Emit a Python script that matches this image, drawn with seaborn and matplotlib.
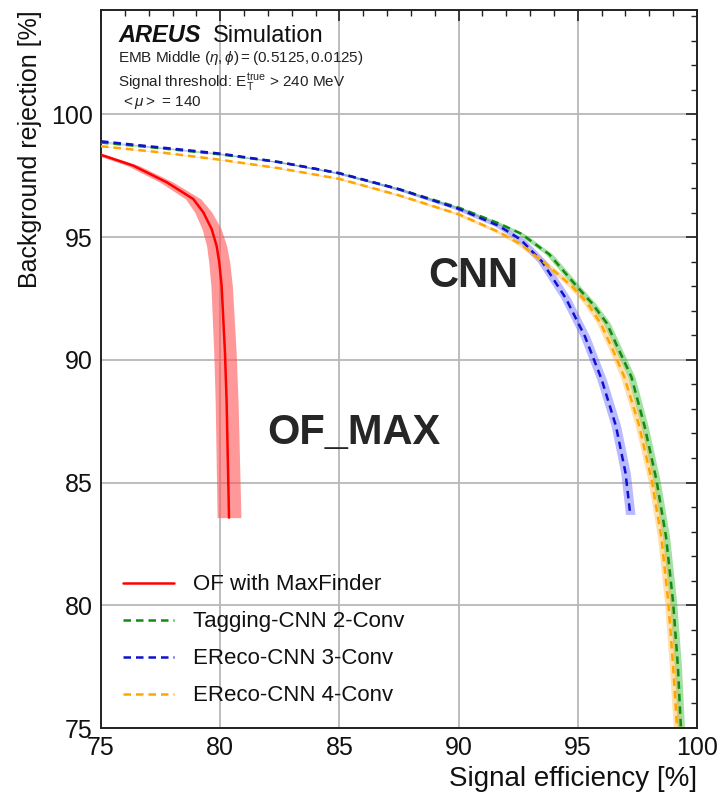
import numpy as np
import pandas as pd
import matplotlib
matplotlib.use("Agg")
import matplotlib.pyplot as plt
import seaborn as sns
from matplotlib.ticker import MultipleLocator

# ---------------- data ----------------
of_x = [75.0, 76.35, 77.76, 78.87, 79.29, 79.64, 79.85, 79.96, 80.06, 80.13, 80.2, 80.27, 80.37]
of_y = [98.35, 97.91, 97.23, 96.55, 96.01, 95.33, 94.64, 93.97, 93.01, 91.65, 90.3, 88.27, 83.57]
of_err = [0.22, 0.25, 0.28, 0.32, 0.36, 0.4, 0.42, 0.44, 0.45, 0.46, 0.47, 0.48, 0.5]

tag_x = [75.0, 77.5, 80.0, 82.5, 85.0, 87.5, 90.0, 91.7, 92.6, 93.8, 94.95, 95.6, 96.21, 96.7, 97.25, 97.8, 98.3, 98.7, 99.0, 99.2, 99.35]
tag_y = [98.85, 98.62, 98.37, 98.05, 97.6, 96.95, 96.2, 95.55, 95.15, 94.3, 93.0, 92.3, 91.5, 90.45, 89.3, 87.3, 85.1, 82.8, 80.1, 77.5, 74.5]
tag_err = 0.15

e3_x = [75.0, 77.5, 80.0, 82.5, 85.0, 87.5, 90.0, 91.7, 92.6, 93.5, 94.5, 95.3, 96.0, 96.6, 97.0, 97.2]
e3_y = [98.9, 98.65, 98.4, 98.05, 97.6, 96.95, 96.15, 95.45, 94.9, 94.0, 92.5, 90.95, 89.2, 87.3, 85.4, 83.7]
e3_err = 0.2

e4_x = [75.0, 77.5, 80.0, 82.5, 85.0, 87.5, 90.0, 91.7, 92.6, 93.8, 94.75, 95.4, 95.95, 96.45, 96.95, 97.55, 98.1, 98.5, 98.8, 99.0, 99.2]
e4_y = [98.7, 98.45, 98.15, 97.8, 97.37, 96.7, 95.93, 95.2, 94.71, 93.8, 93.0, 92.3, 91.5, 90.45, 89.3, 87.4, 85.1, 82.8, 80.1, 77.5, 74.5]
e4_err = 0.16

labels = ["OF with MaxFinder", "Tagging-CNN 2-Conv", "EReco-CNN 3-Conv", "EReco-CNN 4-Conv"]
x_ticks = [75, 80, 85, 90, 95, 100]
y_ticks = [75, 80, 85, 90, 95, 100]

# ---------------- style ----------------
sns.set_style("white")
plt.rcParams["font.family"] = ["Liberation Sans", "DejaVu Sans"]
plt.rcParams["mathtext.fontset"] = "custom"
plt.rcParams["mathtext.rm"] = "Liberation Sans"
plt.rcParams["mathtext.it"] = "Liberation Sans:italic"
plt.rcParams["mathtext.bf"] = "Liberation Sans:bold"

fig = plt.figure(figsize=(7.21, 7.92), dpi=100)
ax = fig.add_axes([101 / 721, 64 / 792, 596 / 721, 718 / 792])

frames = []
for lab, xs, ys in [(labels[0], of_x, of_y), (labels[1], tag_x, tag_y),
                    (labels[2], e3_x, e3_y), (labels[3], e4_x, e4_y)]:
    frames.append(pd.DataFrame({"eff": xs, "rej": ys, "model": lab}))
df = pd.concat(frames, ignore_index=True)

colors = {labels[0]: "#ff0000", labels[1]: "#138a13", labels[2]: "#1010d0", labels[3]: "#ffa500"}
band_colors = {labels[0]: ("#ff5555", 0.6), labels[1]: ("#33bb33", 0.45),
               labels[2]: ("#6666ff", 0.45), labels[3]: ("#ffb030", 0.4)}

# uncertainty bands
for lab, xs, ys, err in [(labels[0], of_x, of_y, of_err), (labels[1], tag_x, tag_y, tag_err),
                         (labels[2], e3_x, e3_y, e3_err), (labels[3], e4_x, e4_y, e4_err)]:
    xs = np.asarray(xs); ys = np.asarray(ys); err = np.asarray(err) * np.ones_like(xs)
    c, a = band_colors[lab]
    ax.fill_betweenx(ys, xs - err, xs + err, color=c, alpha=a, lw=0, zorder=2)

for lab in labels:
    sub = df[df["model"] == lab]
    ls = "-" if lab == labels[0] else (0, (3.0, 2.0))
    sns.lineplot(data=sub, x="eff", y="rej", ax=ax, color=colors[lab], lw=1.8,
                 linestyle=ls, sort=False, estimator=None, label=lab, zorder=3)

ax.set_xlim(75, 100)
ax.set_ylim(75, 104.25)
ax.set_xticks(x_ticks)
ax.set_yticks(y_ticks)
ax.xaxis.set_minor_locator(MultipleLocator(1))
ax.yaxis.set_minor_locator(MultipleLocator(1))
ax.tick_params(which="both", direction="in", top=True, right=True, colors="#222222")
ax.tick_params(which="major", length=8, width=1.2, labelsize=18, labelcolor="#111111", pad=6)
ax.tick_params(which="minor", length=4, width=1.0)
ax.grid(True, which="major", color="#b8b8b8", lw=1.3, zorder=0)
for s in ax.spines.values():
    s.set_color("#222222")
    s.set_linewidth(1.4)

ax.set_xlabel("Signal efficiency [%]", fontsize=20, ha="right", x=1.0, labelpad=4, color="#111111")
ax.set_ylabel("Background rejection [%]", fontsize=18, ha="right", y=1.0, labelpad=6, color="#111111")

# header text
ax.text(0.0285, 0.955, "AREUS", transform=ax.transAxes, fontsize=17, fontweight="bold",
        fontstyle="italic", va="baseline", ha="left", color="#111111")
ax.text(0.188, 0.955, "Simulation", transform=ax.transAxes, fontsize=17,
        va="baseline", ha="left", color="#111111")
ax.text(0.0285, 0.927, r"EMB Middle $(\eta,\phi) = (0.5125, 0.0125)$", transform=ax.transAxes,
        fontsize=11, va="baseline", ha="left", color="#222222")
ax.text(0.0285, 0.894, r"Signal threshold: $\mathrm{E_T^{true}}$ > 240 MeV", transform=ax.transAxes,
        fontsize=11, va="baseline", ha="left", color="#222222")
ax.text(0.033, 0.866, r"$<\mu>$ = 140", transform=ax.transAxes,
        fontsize=11, va="baseline", ha="left", color="#222222")

ax.text(90.6, 93.4, "CNN", fontsize=30, fontweight="bold", ha="center", va="center", zorder=5)
ax.text(85.6, 87.0, "OF_MAX", fontsize=30, fontweight="bold", ha="center", va="center", zorder=5)

leg = ax.legend(loc="lower left", bbox_to_anchor=(0.037, 0.03), frameon=False, fontsize=16,
                handlelength=2.3, handletextpad=0.85, labelspacing=0.72, borderpad=0,
                borderaxespad=0)
for t in leg.get_texts():
    t.set_color("#111111")

fig.savefig("out.png", dpi=100)
